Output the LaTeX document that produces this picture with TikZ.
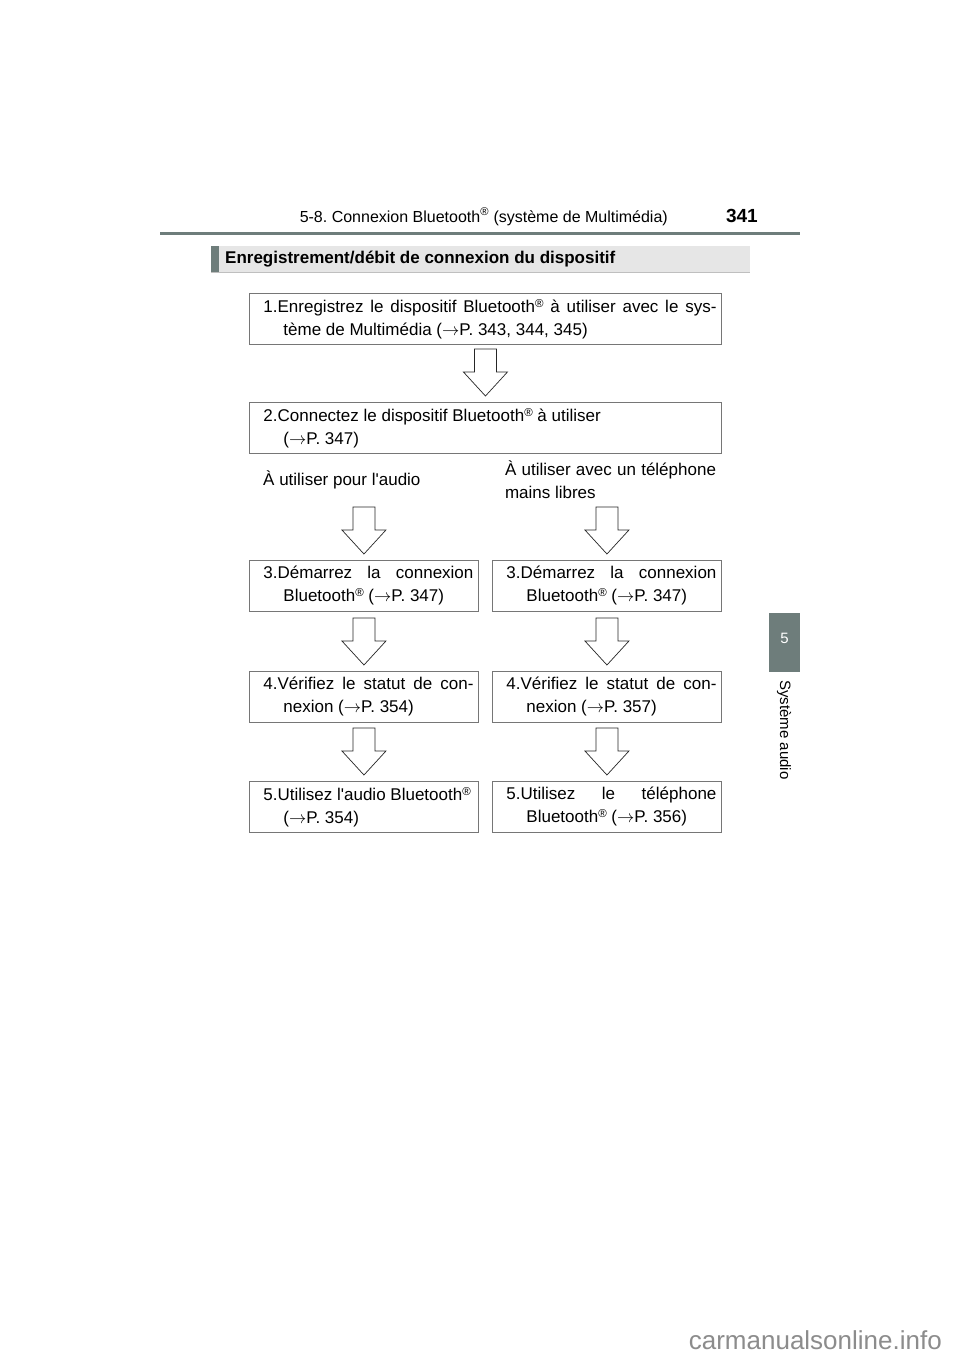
\documentclass[tikz,border=0pt]{standalone}
\usepackage{fontspec}
\setmainfont{Liberation Sans}
\usetikzlibrary{calc}
\usetikzlibrary{positioning}
\frenchspacing

\definecolor{tabgray}{HTML}{6E7D7B}
\definecolor{barfill}{HTML}{E6E6E6}
\definecolor{boxline}{HTML}{767676}
\definecolor{markgray}{HTML}{8C8C8C}

\newcommand{\reg}{\raisebox{0.3em}{\fontsize{11.5}{11.5}\selectfont\textregistered}}
\newcommand{\pref}{$\rightarrow$}
\newcommand{\steptext}[1]{\hangindent=20pt\hangafter=1\leftskip=9pt #1\par}
% hollow block arrow pointing down onto a box
\newcommand{\flowdown}[1]{%
  \draw[flowarrow] ($(#1.north)+(0,6)$) -- ++(-22,24) -- ++(11,0) -- ++(0,23)
    -- ++(22,0) -- ++(0,-23) -- ++(11,0) -- cycle;}

\tikzset{
  flowbox/.style={draw=boxline, line width=0.9pt, inner xsep=5pt, inner ysep=0pt,
    minimum height=51pt, align=justify, anchor=north west,
    font=\fontsize{17}{23}\selectfont},
  widebox/.style={flowbox, text width=462pt},
  halfbox/.style={flowbox, text width=219pt},
  flowarrow/.style={draw=black!85, line width=0.7pt, fill=white, line join=miter},
}

\begin{document}
\begin{tikzpicture}[x=1pt,y=1pt]
    \useasboundingbox (0,0) rectangle (960,-1358);
    \fill [white] (0,0) rectangle (960,-1358);

    % page header
    \node [anchor=base east, inner sep=0, font=\fontsize{16}{18}\selectfont] (title) at (668,-222)
      {5-8. Connexion Bluetooth\textsuperscript{\textregistered} (système de Multimédia)};
    \node [anchor=base east, inner sep=0, font=\fontsize{19}{21}\selectfont\bfseries] (page) at (758,-222) {341};
    \draw [tabgray, line width=3pt] (160,-233) -- (800,-233);

    % section bar
    \fill [barfill] (211,-246) rectangle (750,-272);
    \draw [black!25, line width=0.6pt] (211,-272) -- (750,-272);
    \fill [tabgray] (211,-246) rectangle (219,-272);
    \node [anchor=west, inner sep=0, font=\fontsize{17}{19}\selectfont\bfseries] (section) at (225,-259)
      {Enregistrement/débit de connexion du dispositif};

    % side tab
    \fill [tabgray] (769,-613) rectangle (800,-672);
    \node [white, font=\fontsize{15}{17}\selectfont] (tabnum) at (784.5,-638) {5};
    \node [rotate=-90, inner sep=0, font=\fontsize{15}{17}\selectfont] (tabtext) at (784,-730) {Système audio};

    % common steps
    \node [widebox] (box1) at (249,-293) {\steptext{1.Enregistrez le dispositif Bluetooth\reg{} à utiliser avec le sys-\linebreak tème de Multimédia (\pref P. 343, 344, 345)}};
    \node [widebox] (box2) at (249,-402) {\steptext{2.Connectez le dispositif Bluetooth\reg{} à utiliser\newline (\pref P. 347)}};
    \flowdown{box2}

    % branch labels
    \node [anchor=west, inner sep=0, font=\fontsize{17}{23}\selectfont] (audiolabel) at (263,-480) {À utiliser pour l\textquotesingle audio};
    \node [inner sep=0, text width=211pt, align=justify, font=\fontsize{17}{23}\selectfont] (tellabel) at (610.5,-480)
      {À utiliser avec un téléphone\linebreak mains libres};

    % audio branch
    \node [halfbox] (audio3) at (249,-560) {\steptext{3.Démarrez la connexion\linebreak Bluetooth\reg{} (\pref P. 347)}};
    \node [halfbox] (audio4) at (249,-671) {\steptext{4.Vérifiez le statut de con-\linebreak nexion (\pref P. 354)}};
    \node [halfbox] (audio5) at (249,-781) {\steptext{5.Utilisez l\textquotesingle audio Bluetooth\reg\newline (\pref P. 354)}};

    % telephone branch
    \node [halfbox] (tel3) at (492,-560) {\steptext{3.Démarrez la connexion\linebreak Bluetooth\reg{} (\pref P. 347)}};
    \node [halfbox] (tel4) at (492,-671) {\steptext{4.Vérifiez le statut de con-\linebreak nexion (\pref P. 357)}};
    \node [halfbox] (tel5) at (492,-781) {\steptext{5.Utilisez le téléphone\linebreak Bluetooth\reg{} (\pref P. 356)}};

    \foreach \target in {audio3,audio4,audio5,tel3,tel4,tel5}
      {\flowdown{\target}}

    % watermark
    \node [anchor=base east, inner sep=0, markgray, font=\fontsize{26}{28}\selectfont] (mark) at (942,-1349) {carmanualsonline.info};
\end{tikzpicture}
\end{document}
